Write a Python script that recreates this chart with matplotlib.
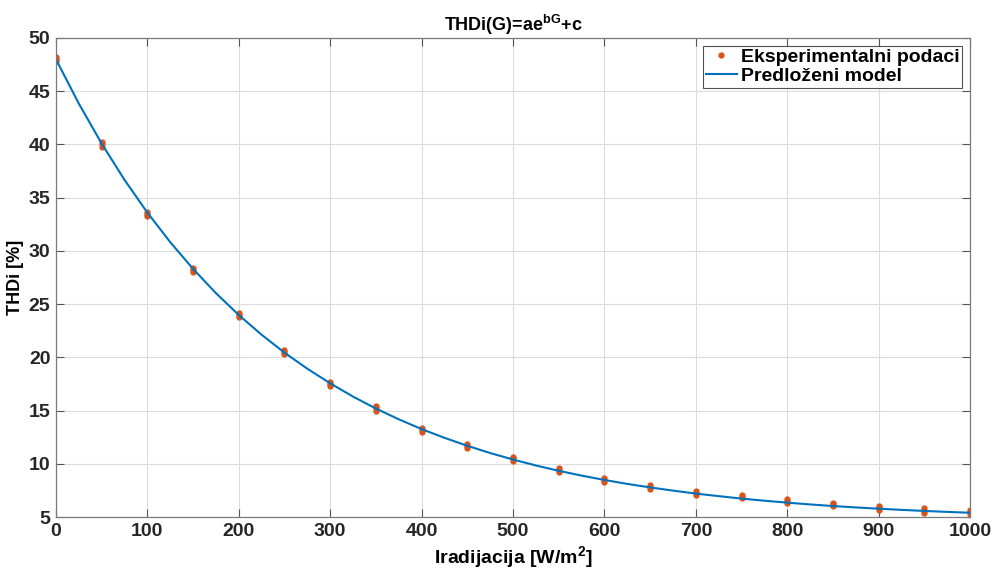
import numpy as np
import matplotlib.pyplot as plt

# eksperimentalni podaci: tri ocitanja po nivou iradijacije
G_levels = [0, 50, 100, 150, 200, 250, 300, 350, 400, 450, 500,
            550, 600, 650, 700, 750, 800, 850, 900, 950, 1000]
thd_low = [47.8, 39.8, 33.3, 28.0, 23.8, 20.3, 17.3, 15.0, 13.0, 11.5, 10.3,
           9.2, 8.3, 7.6, 7.1, 6.75, 6.3, 6.0, 5.7, 5.4, 5.3]
thd_mid = [48.0, 40.0, 33.5, 28.2, 24.0, 20.5, 17.5, 15.2, 13.2, 11.7, 10.5,
           9.4, 8.5, 7.8, 7.3, 6.9, 6.5, 6.2, 5.9, 5.6, 5.5]
thd_high = [48.2, 40.2, 33.7, 28.4, 24.15, 20.65, 17.7, 15.4, 13.4, 11.9, 10.65,
            9.6, 8.7, 8.0, 7.45, 7.05, 6.65, 6.35, 6.05, 5.8, 5.7]

# predlozeni model, ocitan svakih 25 W/m2
G_model = list(range(0, 1001, 25))
thd_model = [48.00, 43.84, 40.08, 36.67, 33.60, 30.82, 28.31, 26.03, 23.98, 22.12,
             20.44, 18.93, 17.56, 16.31, 15.19, 14.18, 13.26, 12.44, 11.69, 11.01,
             10.40, 9.84, 9.34, 8.89, 8.48, 8.11, 7.78, 7.48, 7.20, 6.96,
             6.73, 6.53, 6.35, 6.18, 6.03, 5.90, 5.78, 5.67, 5.57, 5.48, 5.40]

xticks = list(range(0, 1001, 100))
yticks = list(range(5, 51, 5))

plt.rcParams['font.family'] = ['Liberation Sans', 'DejaVu Sans']
plt.rcParams['font.weight'] = 'bold'
plt.rcParams['mathtext.fontset'] = 'custom'
plt.rcParams['mathtext.rm'] = 'Liberation Sans:bold'
plt.rcParams['mathtext.it'] = 'Liberation Sans:bold'
plt.rcParams['mathtext.bf'] = 'Liberation Sans:bold'

fig = plt.figure(figsize=(9.94, 5.74), dpi=100)
ax = fig.add_axes([0.0563, 0.0993, 0.9196, 0.8345])

G_exp = G_levels * 3
thd_exp = thd_low + thd_mid + thd_high
ax.plot(G_exp, thd_exp, '.', color='#D95319', markersize=7, label='Eksperimentalni podaci')
ax.plot(G_model, thd_model, '-', color='#0072BD', linewidth=1.5, label='Predloženi model')

ax.set_xlim(0, 1000)
ax.set_ylim(5, 50)
ax.set_xticks(xticks)
ax.set_yticks(yticks)
ax.tick_params(direction='in', length=6, width=0.8, color='#555555',
               labelsize=14, top=True, right=True, pad=4)
for lbl in ax.get_xticklabels() + ax.get_yticklabels():
    lbl.set_fontweight('bold')
    lbl.set_color('#262626')
for s in ax.spines.values():
    s.set_color('#7a7a7a')
    s.set_linewidth(0.9)
ax.grid(True, color='#dcdcdc', linewidth=0.8)
ax.set_axisbelow(True)

ax.set_xlabel('Iradijacija [W/m$^2$]', fontsize=14, fontweight='bold', labelpad=3)
ax.set_ylabel('THDi [%]', fontsize=13, fontweight='bold', labelpad=3)
ax.set_title('THDi(G)=ae$^{bG}$+c', fontsize=13, fontweight='bold', pad=5)

leg = ax.legend(loc='upper right', fontsize=14, frameon=True, fancybox=False,
                borderpad=0.15, handlelength=1.6, handletextpad=0.2,
                labelspacing=0.05, borderaxespad=0.4, markerscale=1.0)
leg.get_frame().set_edgecolor('#262626')
leg.get_frame().set_linewidth(0.8)

plt.savefig('out.png', dpi=100)
